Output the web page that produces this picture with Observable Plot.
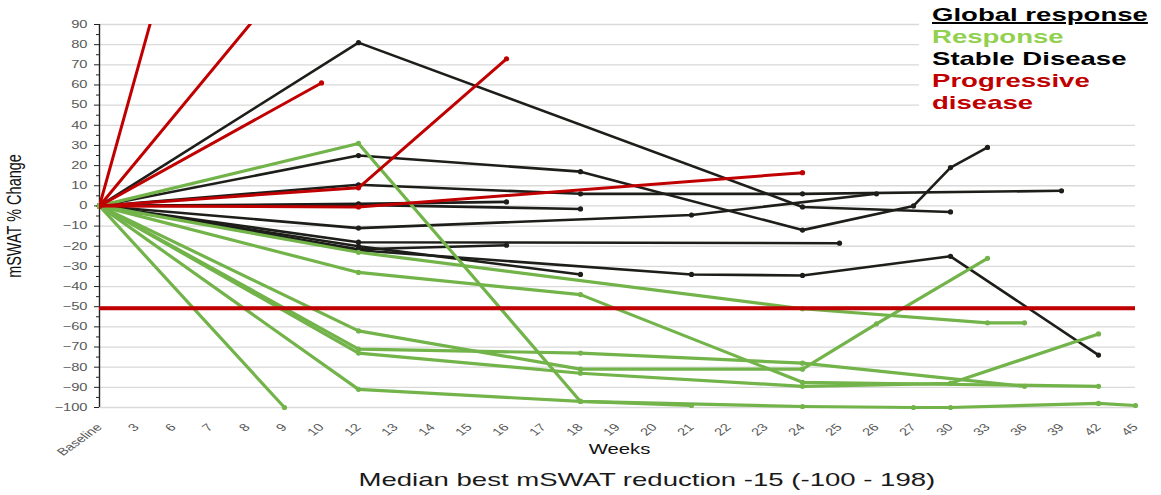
<!DOCTYPE html>
<html>
<head>
<meta charset="utf-8">
<script src="https://cdn.jsdelivr.net/npm/d3@7"></script>
<script src="https://cdn.jsdelivr.net/npm/@observablehq/plot@0.6"></script>
<style>
  html, body { margin: 0; padding: 0; background: #fff; }
  #page { position: relative; width: 1161px; height: 495px; overflow: hidden; font-family: "Liberation Sans", Arial, sans-serif; }
  #chart svg { display: block; overflow: visible; }
  #legend { position: absolute; left: 919px; top: 4px; width: 242px; height: 114px; background: #fff; padding-left: 13px; box-sizing: border-box; }
  #legend div { font-weight: bold; font-size: 19px; line-height: 22px; white-space: nowrap; transform: scaleX(1.45); transform-origin: left center; }
  #caption { height: 30px; line-height: 30px; font-size: 19px; color: #1a1a1a; text-align: center; padding-left: 133px; white-space: nowrap; }
  #caption span { display: inline-block; transform: scaleX(1.45); transform-origin: center; }
</style>
</head>
<body>
<div id="page">
  <div id="chart"></div>
  <div id="legend">
    <div style="color:#000;text-decoration:underline;text-decoration-thickness:2px;">Global response</div>
    <div style="color:#92d050;">Response</div>
    <div style="color:#000;">Stable Disease</div>
    <div style="color:#c00000;">Progressive</div>
    <div style="color:#c00000;">disease</div>
  </div>
  <div id="caption"><span>Median best mSWAT reduction -15 (-100 - 198)</span></div>
</div>
<script>
// Visit weeks on the category axis
const weeks = ["Baseline", "3", "6", "7", "8", "9", "10", "12", "13", "14", "15", "16", "17", "18",
  "19", "20", "21", "22", "23", "24", "25", "26", "27", "30", "33", "36", "39", "42", "45"];

// mSWAT % change per patient, as [week, value] pairs
const responseLines = [
  [["Baseline", 0], ["12", 31], ["18", -97], ["21", -99]],
  [["Baseline", 0], ["9", -100]],
  [["Baseline", 0], ["12", -23], ["24", -51], ["33", -58], ["36", -58]],
  [["Baseline", 0], ["12", -33], ["18", -44], ["24", -87.5], ["42", -89.5]],
  [["Baseline", 0], ["12", -62], ["18", -81], ["24", -81], ["26", -58.5], ["33", -26]],
  [["Baseline", 0], ["12", -71], ["18", -73], ["24", -78], ["36", -89.5]],
  [["Baseline", 0], ["12", -73], ["18", -83], ["24", -89.5], ["30", -88], ["42", -63.5]],
  [["Baseline", 0], ["12", -91], ["18", -97], ["24", -99.5], ["27", -100], ["30", -100], ["42", -98], ["45", -99]]
];

const stableLines = [
  [["Baseline", 0], ["12", 81], ["24", -0.5], ["30", -3]],
  [["Baseline", 0], ["12", 25], ["18", 17], ["24", -12], ["27", 0], ["30", 19], ["33", 29]],
  [["Baseline", 0], ["12", 10.5], ["18", 6], ["24", 6], ["39", 7.5]],
  [["Baseline", 0], ["12", 1], ["16", 2]],
  [["Baseline", 0], ["12", 0.5], ["18", -1.5]],
  [["Baseline", 0], ["12", -11], ["21", -4.5], ["26", 6]],
  [["Baseline", 0], ["12", -18], ["25", -18.5]],
  [["Baseline", 0], ["12", -20], ["18", -34]],
  [["Baseline", 0], ["12", -21.5], ["16", -19.5]],
  [["Baseline", 0], ["12", -22], ["21", -34], ["24", -34.5], ["30", -25], ["42", -74]]
];

const progressiveLines = [
  [["Baseline", 0], ["7", 198]],
  [["Baseline", 0], ["12", 155]],
  [["Baseline", 0], ["10", 61]],
  [["Baseline", 0], ["12", 9], ["16", 73]],
  [["Baseline", 0], ["12", -0.5], ["24", 16.5]]
];

const responseThreshold = [-50];
const yTicks = d3.range(-100, 91, 10);
const yMinorTicks = d3.range(-95, 90, 10);

const GREEN = "#72b34a", BLACK = "#1d1d19", RED = "#c00000";

function toRows(lines, group) {
  return lines.flatMap((pts, i) => pts.map(([week, value]) => ({id: group + i, week, value})));
}
const response = toRows(responseLines, "R");
const stable = toRows(stableLines, "S");
const progressive = toRows(progressiveLines, "P");

const lineOpts = (stroke, w, clip = false) => ({x: "week", y: "value", z: "id", stroke, strokeWidth: w, clip, strokeLinejoin: "round"});
const dotOpts = (fill, clip = false) => ({x: "week", y: "value", fill, r: 2.6, clip});

const chart = Plot.plot({
  width: 1161,
  height: 465,
  marginLeft: 99,
  marginRight: 26,
  marginTop: 24,
  marginBottom: 58,
  style: {fontFamily: "'Liberation Sans', Arial, sans-serif", background: "#fff", overflow: "visible"},
  x: {type: "point", domain: weeks, padding: 0, label: null},
  y: {domain: [-100, 90], label: null},
  marks: [
    Plot.gridY(yTicks, {stroke: "#d9d9d9", strokeOpacity: 1, strokeWidth: 1.3}),
    Plot.ruleX(["Baseline"], {stroke: "#222", strokeWidth: 1.4}),
    Plot.axisY(yTicks, {tickSize: 5, tickPadding: 7, fontSize: 10.5, fill: "#595959", stroke: "#222", label: null}),
    Plot.axisY(yMinorTicks, {tickSize: 3, tickFormat: () => "", stroke: "#222", label: null}),
    Plot.axisX({tickRotate: -45, tickSize: 0, tickPadding: 18, fontSize: 10.5, fill: "#595959", label: null}),
    Plot.line(stable, lineOpts(BLACK, 2.6)),
    Plot.dot(stable, dotOpts(BLACK)),
    Plot.line(response, lineOpts(GREEN, 3.2)),
    Plot.dot(response, dotOpts(GREEN)),
    // progression lines run past the top of the value axis and are cut at the frame
    Plot.line(progressive, lineOpts(RED, 3, true)),
    Plot.dot(progressive, dotOpts(RED, true)),
    Plot.ruleY(responseThreshold, {stroke: "#999", strokeOpacity: 0.4, strokeWidth: 3, dy: 3, x1: "Baseline", x2: "45"}),
    Plot.ruleY(responseThreshold, {stroke: RED, strokeWidth: 4, dy: 1.5}),
    Plot.text(["mSWAT % Change"], {frameAnchor: "left", textAnchor: "middle", dx: -85, rotate: -90, fontSize: 14.5, fill: "#111"}),
    Plot.text(["Weeks"], {frameAnchor: "bottom", dy: 46, dx: 2, fontSize: 14.5, fill: "#111"})
  ]
});

// Widen the chart's lettering horizontally
function widenText(svg, selector, k) {
  svg.querySelectorAll(selector).forEach((t) => {
    const tr = t.getAttribute("transform") || "";
    t.setAttribute("transform", /rotate\(/.test(tr) ? tr.replace(/rotate\(/, `scale(${k},1) rotate(`) : `${tr} scale(${k},1)`);
  });
}
widenText(chart, "text", 1.4);

document.getElementById("chart").append(chart);
</script>
</body>
</html>
